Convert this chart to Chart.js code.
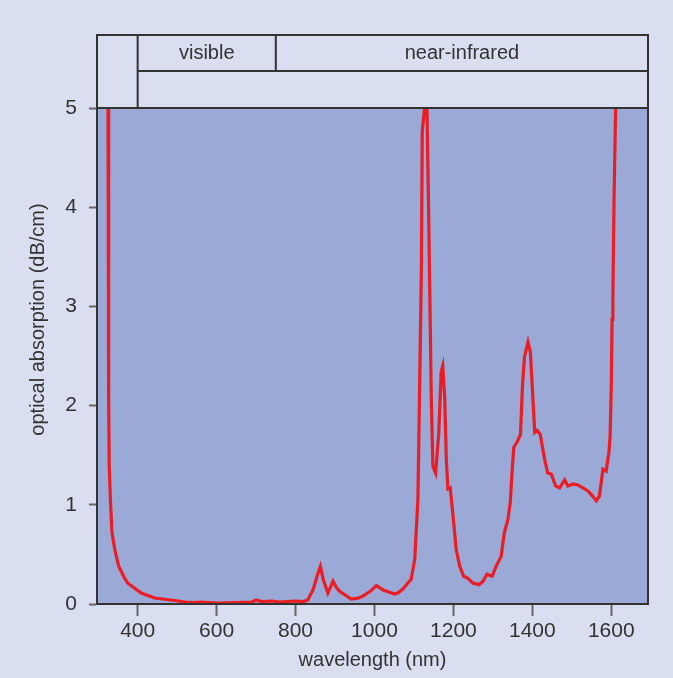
<!DOCTYPE html>
<html>
<head>
<meta charset="utf-8">
<script src="https://cdn.jsdelivr.net/npm/chart.js@4"></script>
<style>
  html, body { margin: 0; padding: 0; background: #d9def0; }
  #wrap { width: 673px; height: 678px; }
</style>
</head>
<body>
<div id="wrap"><canvas id="myChart" width="673" height="678"></canvas></div>
<script>
// Absorption spectrum
const wavelengths = [322, 325, 326, 327, 328, 331, 335, 342, 352, 367, 375, 409, 443, 494,
  520, 545, 560, 600, 650, 690, 700, 715, 740, 760, 800, 820, 831,
  845, 856, 863, 870, 882, 895, 903, 911, 941, 960, 971, 990, 1005, 1022, 1051, 1059,
  1072, 1084, 1093, 1102, 1110, 1114, 1119, 1121, 1127, 1133, 1138, 1141, 1144, 1148,
  1155, 1163, 1169, 1173, 1178, 1182, 1186, 1192, 1199, 1207, 1216, 1226, 1237, 1249,
  1265, 1275, 1285, 1298, 1308, 1321, 1329, 1338, 1344, 1349, 1353, 1361, 1370, 1375,
  1380, 1389, 1395, 1402, 1406, 1412, 1420, 1431, 1439, 1448, 1459, 1469, 1482, 1490,
  1503, 1515, 1528, 1541, 1552, 1562, 1570, 1579, 1587, 1594, 1597, 1600, 1602, 1604,
  1607, 1611, 1613];
const absorption = [5.6, 5.0, 3.08, 2.07, 1.39, 1.05, 0.72, 0.55, 0.38, 0.26, 0.21, 0.11, 0.06, 0.035,
  0.02, 0.015, 0.02, 0.01, 0.015, 0.02, 0.04, 0.025, 0.03, 0.02, 0.03, 0.025, 0.04,
  0.15, 0.3, 0.38, 0.25, 0.11, 0.23, 0.17, 0.13, 0.05, 0.06, 0.08, 0.13, 0.185, 0.14, 0.10, 0.11,
  0.15, 0.21, 0.25, 0.45, 1.05, 2.07, 3.41, 4.76, 5.0, 5.0, 3.75, 2.91, 2.07, 1.39,
  1.32, 1.73, 2.34, 2.40, 2.07, 1.46, 1.16, 1.17, 0.89, 0.55, 0.38, 0.28, 0.26, 0.21,
  0.195, 0.23, 0.30, 0.28, 0.38, 0.48, 0.72, 0.85, 1.02, 1.36, 1.58, 1.63, 1.71, 2.20,
  2.49, 2.64, 2.54, 2.03, 1.73, 1.75, 1.71, 1.46, 1.32, 1.31, 1.19, 1.17, 1.25, 1.19,
  1.21, 1.20, 1.17, 1.14, 1.09, 1.04, 1.09, 1.36, 1.34, 1.53, 1.69, 2.20, 2.87, 3.08,
  4.09, 5.0, 5.6];

const xTicks = [400, 600, 800, 1000, 1200, 1400, 1600];
const yTicks = [0, 1, 2, 3, 4, 5];

// bands shown in the header above the plot
const bandEdges = [400, 750];
const bandLabels = ['visible', 'near-infrared'];
const yTitle = 'optical absorption (dB/cm)';

const fontFamily = "'Liberation Sans', Arial, sans-serif";
const ink = '#333333';

const points = wavelengths.map((w, i) => ({ x: w, y: absorption[i] }));

// plot background, frame, band header and the y title (centred on the whole frame)
const framePlugin = {
  id: 'frame',
  beforeDatasetsDraw(chart) {
    const { ctx, chartArea: a } = chart;
    ctx.save();
    ctx.fillStyle = '#9aa9d6';
    ctx.fillRect(a.left, a.top, a.right - a.left, a.bottom - a.top);
    ctx.restore();
  },
  afterDraw(chart) {
    const { ctx, chartArea: a } = chart;
    const xs = chart.scales.x;
    const top = 35, mid = 71;
    const xEdge = xs.getPixelForValue(bandEdges[0]);
    const xSplit = xs.getPixelForValue(bandEdges[1]);
    ctx.save();
    ctx.strokeStyle = ink;
    ctx.lineWidth = 2;
    ctx.strokeRect(a.left, a.top, a.right - a.left, a.bottom - a.top);
    ctx.strokeRect(a.left, top, a.right - a.left, a.top - top);
    ctx.beginPath();
    ctx.moveTo(xEdge, top); ctx.lineTo(xEdge, a.top);
    ctx.moveTo(xEdge, mid); ctx.lineTo(a.right, mid);
    ctx.moveTo(xSplit, top); ctx.lineTo(xSplit, mid);
    ctx.stroke();
    ctx.fillStyle = ink;
    ctx.font = '20px ' + fontFamily;
    ctx.textAlign = 'center';
    ctx.textBaseline = 'middle';
    ctx.fillText(bandLabels[0], (xEdge + xSplit) / 2, (top + mid) / 2);
    ctx.fillText(bandLabels[1], (xSplit + a.right) / 2, (top + mid) / 2);
    ctx.translate(38, (top + a.bottom) / 2);
    ctx.rotate(-Math.PI / 2);
    ctx.fillText(yTitle, 0, 0);
    ctx.restore();
  }
};

new Chart(document.getElementById('myChart'), {
  type: 'line',
  data: {
    datasets: [{
      data: points,
      borderColor: '#ec1c24',
      borderWidth: 3.2,
      pointRadius: 0,
      tension: 0,
      fill: false
    }]
  },
  options: {
    responsive: false,
    animation: false,
    layout: { padding: { top: 108, right: 25, left: 0, bottom: 0 } },
    plugins: { legend: { display: false }, tooltip: { enabled: false } },
    scales: {
      x: {
        type: 'linear',
        min: 297,
        max: 1693,
        afterBuildTicks: s => { s.ticks = xTicks.map(v => ({ value: v })); },
        afterFit: s => { s.height = 74; },
        grid: { drawOnChartArea: false, tickLength: 12, tickColor: '#666666', tickWidth: 2 },
        border: { display: true, color: ink, width: 2 },
        ticks: {
          color: ink, padding: 3, font: { family: fontFamily, size: 21 }, maxRotation: 0,
          callback: v => String(v)
        },
        title: {
          display: true, text: 'wavelength (nm)', color: ink,
          font: { family: fontFamily, size: 20 }, padding: { top: 6, bottom: 6 }
        }
      },
      y: {
        min: 0,
        max: 5,
        afterBuildTicks: s => { s.ticks = yTicks.map(v => ({ value: v })); },
        afterFit: s => { s.width = 97; },
        grid: { drawOnChartArea: false, tickLength: 8, tickColor: '#666666', tickWidth: 2 },
        border: { display: true, color: ink, width: 2 },
        ticks: { color: ink, padding: 12, font: { family: fontFamily, size: 21 }, callback: v => String(v) },
        title: { display: false }
      }
    }
  },
  plugins: [framePlugin]
});
</script>
</body>
</html>
